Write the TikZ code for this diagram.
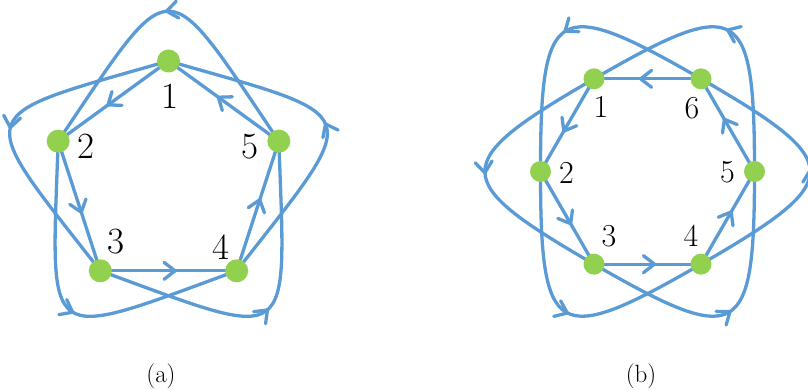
\documentclass[tikz,border=0pt]{standalone}
\usetikzlibrary{calc,arrows.meta,decorations.markings}
\definecolor{eblue}{HTML}{5B9BD5}
\definecolor{dgreen}{HTML}{92D050}
\pgfdeclarelayer{bg}
\pgfsetlayers{bg,main}
\tikzset{
  edge/.style={draw=eblue, line width=3.3pt, line cap=round, line join=round},
  midarrow/.style={postaction={decorate}, decoration={markings,
      mark=at position #1 with {\arrow{Straight Barb[length=11pt,width=17pt,round]}}}},
  dota/.style={circle, fill=dgreen, inner sep=0pt, minimum size=23pt},
  dotb/.style={circle, fill=dgreen, inner sep=0pt, minimum size=21pt},
  laba/.style={inner sep=0pt, font=\fontsize{37}{40}\selectfont},
  labb/.style={inner sep=0pt, font=\fontsize{32}{36}\selectfont},
  capt/.style={inner sep=0pt, font=\fontsize{25}{30}\selectfont},
}
\begin{document}
\begin{tikzpicture}[x=1pt,y=1pt]
\useasboundingbox (0,0) rectangle (808,390);
% ---------- (a) pentagon ----------
\foreach \k in {1,...,5}{
  \node[dota] (a\k) at ($(168.5,213)+({90+72*(\k-1)}:116)$) {};
}
\node[laba] (la1) at ($(a1)+(1,-35)$) {1};
\node[laba] (la2) at ($(a2)+(28,-5)$) {2};
\node[laba] (la3) at ($(a3)+(16,29)$) {3};
\node[laba] (la4) at ($(a4)+(-16,24)$) {4};
\node[laba] (la5) at ($(a5)+(-29,-5)$) {5};
\begin{pgfonlayer}{bg}
\foreach \k in {1,...,5}{
  \pgfmathtruncatemacro{\n}{mod(\k,5)+1}
  \pgfmathtruncatemacro{\e}{mod(\k+1,5)+1}
  \pgfmathsetmacro{\ph}{90+72*\k}
  \draw[edge, midarrow=0.56] (a\k.center) -- (a\n.center);
  \draw[edge, midarrow=0.51] (a\k.center) .. controls +({\ph+34}:209) and +({\ph-34}:209) .. (a\e.center);
}
\end{pgfonlayer}
% ---------- (b) hexagon ----------
\foreach \k in {1,...,6}{
  \node[dotb] (b\k) at ($(647.5,218.5)+({120+60*(\k-1)}:107)$) {};
}
\node[labb] (lb1) at ($(b1)+(7,-28)$) {1};
\node[labb] (lb2) at ($(b2)+(26,-1)$) {2};
\node[labb] (lb3) at ($(b3)+(15,28)$) {3};
\node[labb] (lb4) at ($(b4)+(-10,28)$) {4};
\node[labb] (lb5) at ($(b5)+(-27,-1)$) {5};
\node[labb] (lb6) at ($(b6)+(-9,-29)$) {6};
\begin{pgfonlayer}{bg}
\foreach \k in {1,...,6}{
  \pgfmathtruncatemacro{\n}{mod(\k,6)+1}
  \pgfmathtruncatemacro{\e}{mod(\k+1,6)+1}
  \pgfmathsetmacro{\ph}{120+60*\k}
  \draw[edge, midarrow=0.58] (b\k.center) -- (b\n.center);
  \draw[edge, midarrow=0.51] (b\k.center) .. controls +({\ph+30}:168) and +({\ph-30}:168) .. (b\e.center);
}
\end{pgfonlayer}
% ---------- captions ----------
\node[capt] (capa) at (161,14) {(a)};
\node[capt] (capb) at (641,14) {(b)};
\end{tikzpicture}
\end{document}
